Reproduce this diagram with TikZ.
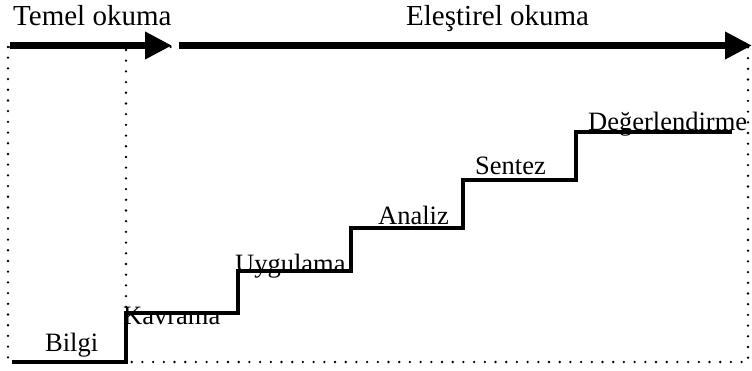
\documentclass[tikz,border=0pt]{standalone}
\usepackage{fontspec}
\setmainfont{Liberation Serif}
\usetikzlibrary{arrows.meta}

\begin{document}
\begin{tikzpicture}[x=1pt,y=-1pt,
  heading/.style={anchor=base west,inner sep=0pt,font=\fontsize{29}{32}\selectfont},
  stage/.style={anchor=base west,inner sep=0pt,font=\fontsize{26.5}{30}\selectfont},
  phase/.style={line width=7pt,-{Triangle[length=27pt,width=26pt]}},
  frame/.style={line width=2.6pt,line cap=round,dash pattern=on 0pt off 10.7pt},
  stairs/.style={line width=4pt,line join=miter}]
\useasboundingbox (0,0) rectangle (752,371);

% dotted frame and divider between the two reading phases
\draw[frame] (8,47) rectangle (748,362);
\draw[frame] (126,50) -- (126,313);

% phase arrows
\coordinate (t0) at (10,45.5);
\coordinate (t1) at (172,45.5);
\coordinate (e0) at (179,45.5);
\coordinate (e1) at (752,45.5);
\draw[phase] (t0) -- (t1);
\draw[phase] (e0) -- (e1);
\node[heading] (temel) at (13,26) {Temel okuma};
\node[heading] (elestirel) at (406,26) {Eleştirel okuma};

% staircase of levels
\coordinate (s0) at (12,362);
\coordinate (s1) at (126,362);
\coordinate (s2) at (126,313);
\coordinate (s3) at (238,313);
\coordinate (s4) at (238,271);
\coordinate (s5) at (351,271);
\coordinate (s6) at (351,228);
\coordinate (s7) at (463,228);
\coordinate (s8) at (463,180);
\coordinate (s9) at (576,180);
\coordinate (s10) at (576,132);
\coordinate (s11) at (732,132);
\draw[stairs] (s0) -- (s1) -- (s2) -- (s3) -- (s4) -- (s5) -- (s6)
  -- (s7) -- (s8) -- (s9) -- (s10) -- (s11);

% level labels
\node[stage] (bilgi) at (45,351.5) {Bilgi};
\node[stage] (kavrama) at (123,324.5) {Kavrama};
\node[stage] (uygulama) at (235,272.5) {Uygulama};
\node[stage] (analiz) at (378,224.5) {Analiz};
\node[stage] (sentez) at (475,175) {Sentez};
\node[stage] (degerlendirme) at (588,130.5) {Değerlendirme};
\end{tikzpicture}
\end{document}
